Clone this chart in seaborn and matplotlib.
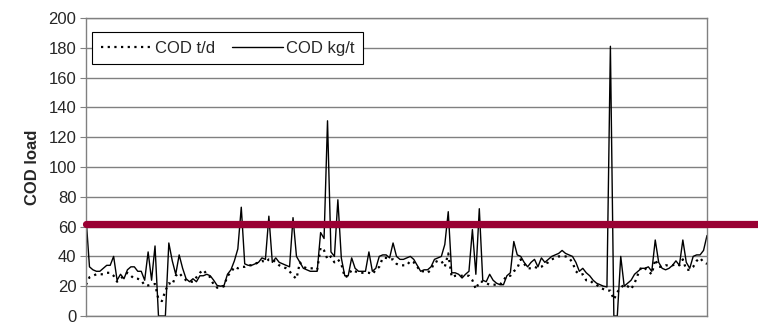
import pandas as pd
import numpy as np
import matplotlib
matplotlib.use("Agg")
import matplotlib.pyplot as plt
import seaborn as sns

# --- data ---
cod_kg_t = [
    66, 33, 31, 30, 30, 32, 34, 34, 40, 24,
    28, 25, 31, 33, 33, 30, 30, 24, 43, 24,
    47, 0, 0, 0, 49, 37, 28, 41, 32, 25,
    23, 25, 23, 27, 27, 28, 27, 24, 20.5, 20,
    20.5, 28, 31, 37, 45, 73, 35, 34, 34, 35,
    36, 39, 38, 67, 36, 39, 36, 35, 34, 33,
    66, 40, 36, 32, 31, 30, 30, 30, 56, 52,
    131, 43, 40, 78, 39, 27, 27, 39, 32, 30,
    30, 30, 43, 30, 32, 40, 41, 41, 39, 49,
    40, 38, 38, 39, 40, 38, 34, 30, 31, 31,
    33, 38, 39, 40, 48, 70, 29, 29, 28, 25.5,
    28, 30, 58, 28, 72, 24, 23, 28, 24, 22,
    21, 21, 27, 29, 50, 41, 40, 36, 33, 36,
    38, 33, 39, 36, 38, 40, 41, 42, 44, 42,
    41, 40, 36, 30, 32, 29, 27, 24, 22, 21,
    20, 19.5, 181, 0, 0, 40, 20, 22, 24, 28,
    30, 32, 32, 33, 30, 51, 36, 32, 31, 32,
    34, 37, 34, 51, 36, 32, 40, 41, 41, 44,
    54,
]

cod_t_d = [
    21, 26, 27, 28, 28, 28, 29, 29, 27, 23,
    25, 27, 29, 27, 25, 25, 24, 20.5, 20.5, 21,
    21.5, 11, 10, 17, 22, 21, 27, 29, 26, 24,
    23, 23, 26, 29, 31, 28, 26, 21, 19, 19,
    20, 27, 29, 33, 32, 33, 33, 34, 34, 35,
    36, 37, 36, 38, 38, 36, 34, 33, 32, 30,
    27, 25, 36, 33, 32, 32, 32, 31, 46, 44,
    38, 40, 36, 38, 35, 26, 27, 31, 30, 29,
    29, 29, 29, 28, 31, 33, 39, 39, 38, 38,
    35, 34, 34, 34, 37, 36, 33, 30, 30, 29,
    31, 36, 37, 37, 33, 42, 26, 27, 27, 27,
    27, 27, 24, 18, 23, 23, 22, 21, 21, 21,
    21, 24, 27, 27, 30, 32, 38, 35, 32, 32,
    33, 32, 33, 35, 36, 38, 39, 40, 40, 40,
    39, 36, 30, 28, 28, 24, 24, 22, 21, 19,
    18, 17, 17, 11, 16, 19, 21, 20, 18, 22,
    28, 33, 32, 30, 28, 38, 33, 33, 34, 34,
    34, 35, 34, 38, 31, 31, 33, 37, 39, 36,
    35,
]

limite = 62
y_ticks = list(range(0, 201, 20))

# --- figure ---
sns.set_style("white")
plt.rcParams['font.family'] = ['Liberation Sans', 'DejaVu Sans']

fig = plt.figure(figsize=(7.58, 3.24), dpi=100)
ax = fig.add_axes([0.1135, 0.0247, 0.8192, 0.9198])

jours = np.arange(len(cod_kg_t))
df = pd.DataFrame({'jour': jours, 'COD t/d': cod_t_d, 'COD kg/t': cod_kg_t})

sns.lineplot(data=df, x='jour', y='COD t/d', ax=ax, color='black',
             linewidth=1.6, linestyle=(0, (1, 2)), label='COD t/d')
sns.lineplot(data=df, x='jour', y='COD kg/t', ax=ax, color='black',
             linewidth=1.0, label='COD kg/t')

# thick limit line running past the plot area
ax.axhline(limite, xmin=0, xmax=1.1, color='#990033', linewidth=5.2,
           clip_on=False, zorder=5)

ax.set_xlim(0, len(cod_kg_t) - 1)
ax.set_ylim(0, 200)
ax.set_yticks(y_ticks)
ax.set_xticks([])
ax.set_xlabel('')
ax.set_ylabel('COD load', fontsize=12, fontweight='bold', labelpad=6)
ax.tick_params(axis='y', labelsize=12, length=4, color='#808080', left=True,
               pad=3)

ax.grid(axis='y', color='#808080', linewidth=1)
ax.set_axisbelow(True)
for s in ax.spines.values():
    s.set_color('#808080')
    s.set_linewidth(1)

leg = ax.legend(loc='upper left', bbox_to_anchor=(0.01, 0.952), ncol=2,
                fontsize=12, frameon=True, fancybox=False, framealpha=1,
                edgecolor='black', handlelength=3.1, columnspacing=1.0,
                handletextpad=0.15, borderaxespad=0, borderpad=0.5)
leg.get_frame().set_linewidth(0.8)

plt.savefig('out.png', dpi=100)
